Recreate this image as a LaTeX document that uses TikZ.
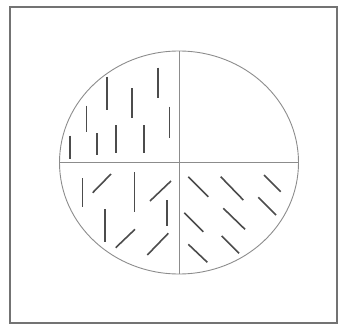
\documentclass[tikz,border=0pt]{standalone}
\usetikzlibrary{calc}
\tikzset{every picture/.style={line width=0.75pt}}

\begin{document}
\begin{tikzpicture}[
    x=1pt, y=-1pt,
    frame/.style={draw=black!55,line width=1.2pt},
    outline/.style={draw=black!45,line width=0.9pt},
    stroke/.style={draw=black!70,line width=1.6pt}
]
    \useasboundingbox (0,0) rectangle (338,324);
    % Frame
    \draw[frame] (10,7) rectangle (337,323);

    % Ellipse and axes
    \coordinate (c) at (179,162.5);
    \draw[outline] (c) ellipse [x radius=119.5, y radius=111.5];
    \draw[outline] (179,51) -- (179,274);
    \draw[outline] (59.5,162.5) -- (298.5,162.5);

    % Upper left: vertical strokes
    \draw[stroke] (70,135.7) -- (70,159);
    \draw[stroke] (86.3,105.7) -- (86.3,132.3);
    \draw[stroke] (97,133.3) -- (97,155);
    \draw[stroke] (106.7,76.7) -- (106.7,110);
    \draw[stroke] (116,125) -- (116,153.3);
    \draw[stroke] (131.7,88.3) -- (131.7,117.7);
    \draw[stroke] (144,125) -- (144,152.7);
    \draw[stroke] (158,67.7) -- (158,98.3);
    \draw[stroke] (169.3,106.7) -- (169.3,138.3);

    % Lower left: mixed strokes
    \draw[stroke] (82.3,178.3) -- (82.3,206.7);
    \draw[stroke] (92.7,192.7) -- (111,174);
    \draw[stroke] (134.3,172.3) -- (134.3,212.3);
    \draw[stroke] (150,201) -- (171,181);
    \draw[stroke] (167,200) -- (167,225.7);
    \draw[stroke] (105,209) -- (105,242.3);
    \draw[stroke] (115.7,247.7) -- (135,229.3);
    \draw[stroke] (147.3,255) -- (168.3,233.3);

    % Lower right: oblique strokes
    \draw[stroke] (188.3,176.7) -- (208.3,196.7);
    \draw[stroke] (220.7,176.7) -- (243.3,200);
    \draw[stroke] (264,175) -- (280.7,191.7);
    \draw[stroke] (184.3,212.7) -- (203.3,231.7);
    \draw[stroke] (223.3,208.3) -- (245,229.3);
    \draw[stroke] (258.3,197.3) -- (276,215);
    \draw[stroke] (188.3,244.3) -- (207.3,262.3);
    \draw[stroke] (221.7,236) -- (239,253.3);
\end{tikzpicture}
\end{document}
